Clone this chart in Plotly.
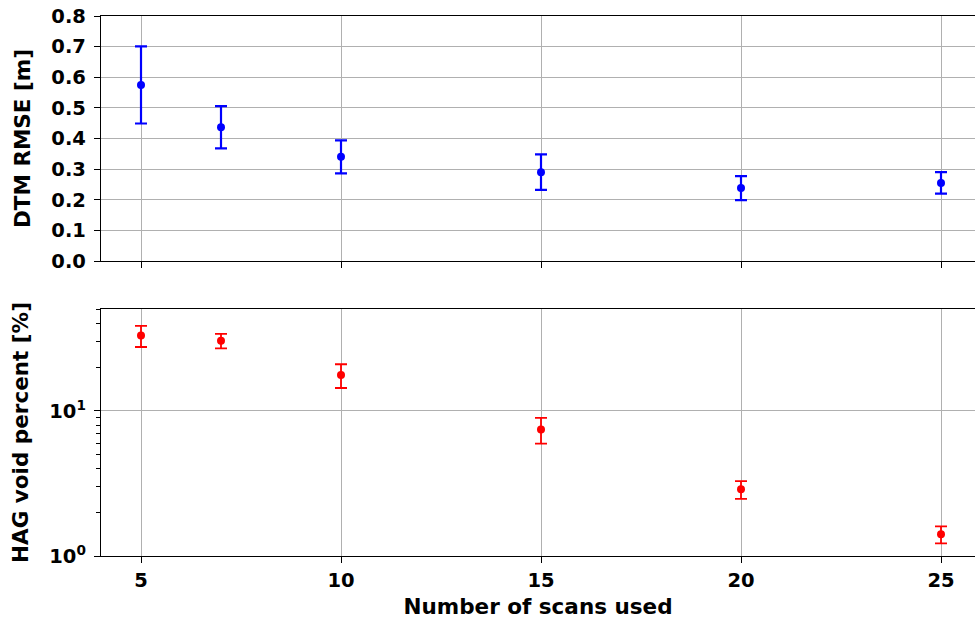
import plotly.graph_objects as go

scans = [5, 7, 10, 15, 20, 25]
rmse = [0.575, 0.437, 0.340, 0.290, 0.238, 0.255]
rmse_err = [0.126, 0.069, 0.054, 0.058, 0.039, 0.035]
void = [33.1, 30.5, 17.7, 7.45, 2.88, 1.41]
void_err = [5.5, 3.5, 3.3, 1.5, 0.40, 0.19]

x_ticks = [5, 10, 15, 20, 25]
top_ticks = [0.0, 0.1, 0.2, 0.3, 0.4, 0.5, 0.6, 0.7, 0.8]
log_ticks = [1, 10]
log_text = ["10<sup>0</sup>", "10<sup>1</sup>"]
minor_log = [2, 3, 4, 5, 6, 7, 8, 9, 20, 30, 40, 50]

tick_font = dict(family="DejaVu Sans", size=19.5, color="black", weight="bold")
title_font = dict(family="DejaVu Sans", size=21.5, color="black", weight="bold")

fig = go.Figure()
fig.add_trace(go.Scatter(
    x=scans, y=rmse, mode="markers",
    marker=dict(color="blue", size=8),
    error_y=dict(type="data", array=rmse_err, color="blue", thickness=2.2, width=6),
    xaxis="x", yaxis="y", showlegend=False))
fig.add_trace(go.Scatter(
    x=scans, y=void, mode="markers",
    marker=dict(color="red", size=8),
    error_y=dict(type="data", array=void_err, color="red", thickness=1.8, width=6),
    xaxis="x2", yaxis="y2", showlegend=False))

axis_common = dict(showline=True, linecolor="black", linewidth=1.4,
                   ticks="outside", ticklen=6, tickcolor="black", tickwidth=1.4,
                   showgrid=True, gridcolor="#b0b0b0", gridwidth=1.2,
                   zeroline=False, tickfont=tick_font)

fig.update_layout(
    width=975, height=624,
    margin=dict(l=101, r=0, t=16, b=68),
    plot_bgcolor="white", paper_bgcolor="white",
    xaxis=dict(axis_common, domain=[0, 1], anchor="y", range=[4, 25.85],
               tickvals=x_ticks, showticklabels=False, mirror=True),
    yaxis=dict(axis_common, domain=[0.5463, 1], anchor="x", range=[0, 0.8],
               tickvals=top_ticks, tickformat=".1f", ticklabelstandoff=4,
               title=dict(text="DTM RMSE [m]", font=title_font, standoff=14)),
    xaxis2=dict(axis_common, domain=[0, 1], anchor="y2", range=[4, 25.85],
                tickvals=x_ticks, mirror=True,
                title=dict(text="Number of scans used", font=title_font, standoff=8)),
    yaxis2=dict(axis_common, domain=[0, 0.4574], anchor="x2", type="log",
                range=[0, 1.703], tickvals=log_ticks, ticktext=log_text,
                ticklabelstandoff=4,
                minor=dict(tickvals=minor_log, ticks="outside", ticklen=3.5,
                           tickcolor="black", tickwidth=1.1, showgrid=False),
                title=dict(text="HAG void percent [%]", font=title_font, standoff=14)),
)

fig.write_html("out.html")
